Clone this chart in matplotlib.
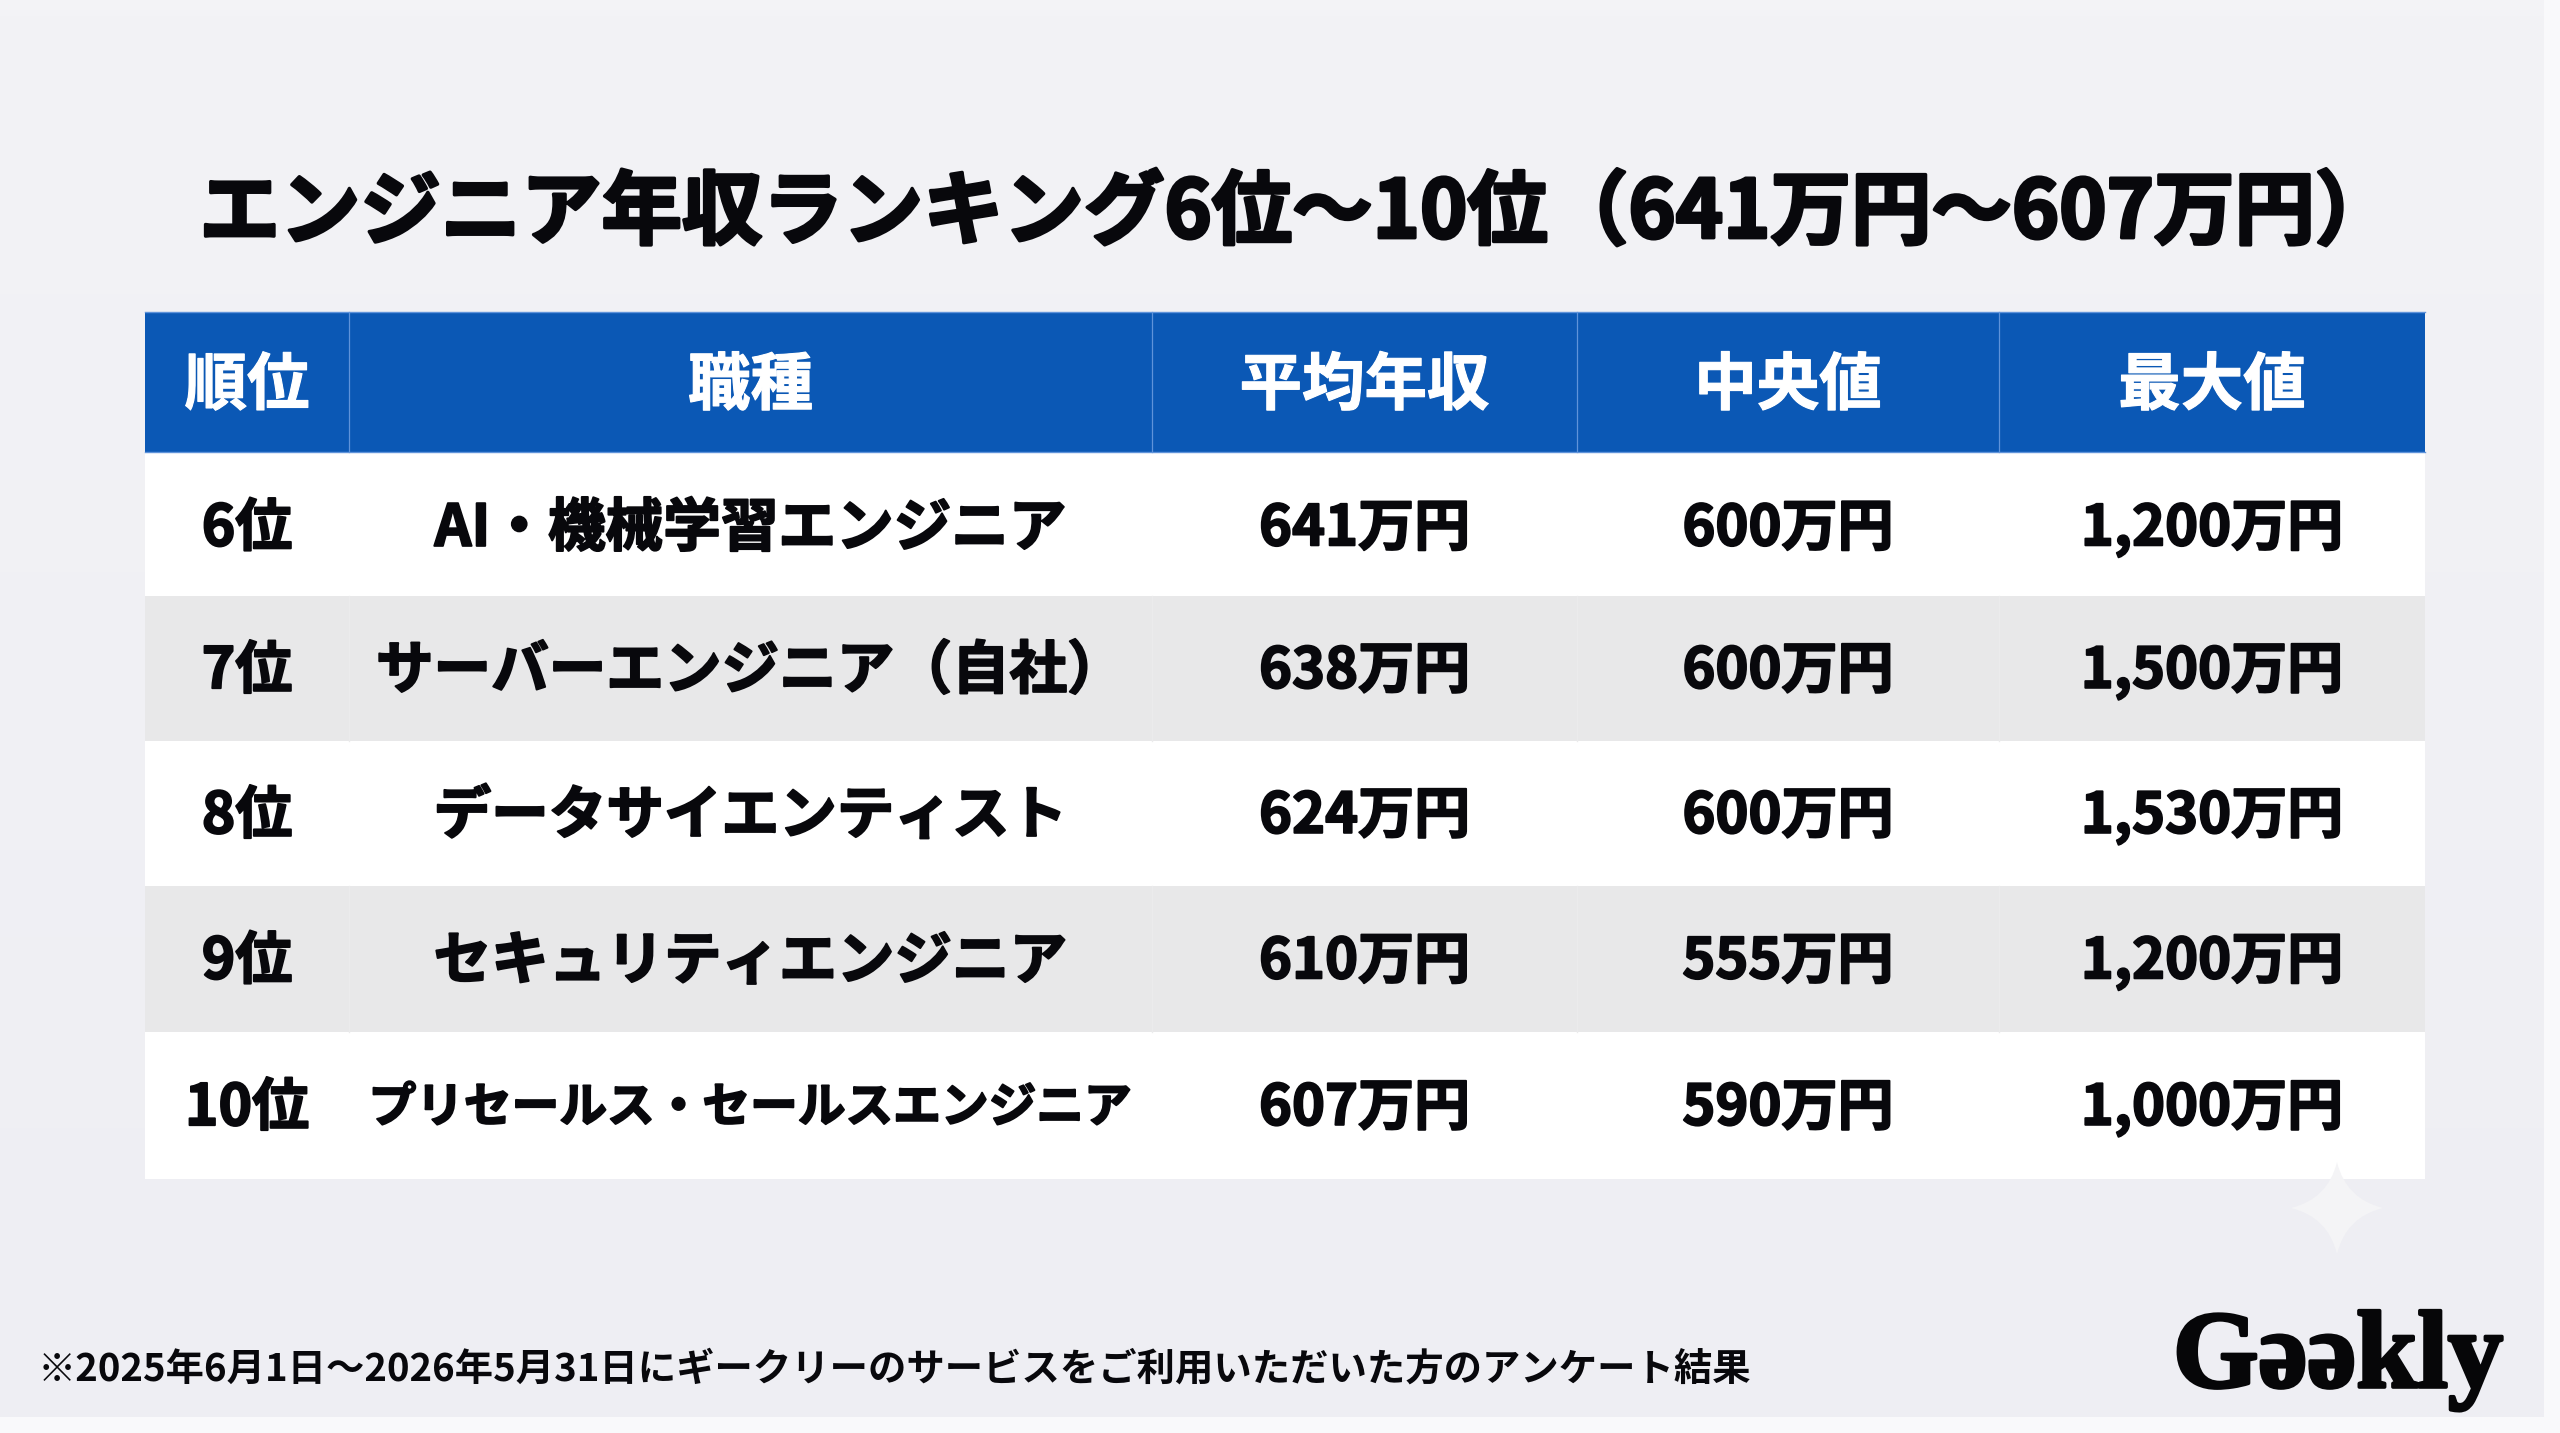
import matplotlib
matplotlib.use("Agg")
import matplotlib.pyplot as plt
import numpy as np
from matplotlib.colors import LinearSegmentedColormap
from matplotlib.patches import Rectangle, PathPatch
from matplotlib.path import Path
import matplotlib.patheffects as pe

plt.rcParams['font.family'] = ['Noto Sans CJK JP', 'DejaVu Sans']

# ---- data ----
title = "エンジニア年収ランキング6位～10位（641万円～607万円）"
headers = ["順位", "職種", "平均年収", "中央値", "最大値"]
ranks = [6, 7, 8, 9, 10]
jobs = ["AI・機械学習エンジニア", "サーバーエンジニア（自社）", "データサイエンティスト",
        "セキュリティエンジニア", "プリセールス・セールスエンジニア"]
avg_salary = [641, 638, 624, 610, 607]
median_salary = [600, 600, 600, 555, 590]
max_salary = [1200, 1500, 1530, 1200, 1000]
footnote = "※2025年6月1日～2026年5月31日にギークリーのサービスをご利用いただいた方のアンケート結果"
logo = "Gəəkly"

# ---- layout (pixels) ----
W, H = 2560, 1433
col_edges = [145, 349, 1152, 1577, 1999, 2425]
row_edges = [312, 452, 596, 741, 886, 1032, 1179]
PT = 72 / 100  # px -> pt at dpi 100

EDGE = "#f9f9fb"
BLUE = "#0b58b5"
LINE = "#5f93da"
GREY = "#e8e8e9"
INK = "#08080c"

fig = plt.figure(figsize=(W / 100, H / 100), dpi=100, facecolor=EDGE)
ax = fig.add_axes([0, 0, 1, 1])

# soft page background, lighter at the top, with a pale strip on the right and bottom
bg_cmap = LinearSegmentedColormap.from_list("bg", ["#f3f3f6", "#eeeef3"])
ax.imshow(np.linspace(0, 1, 64).reshape(-1, 1), cmap=bg_cmap, aspect="auto",
          extent=(0, 2544, 1417, 0), zorder=0, interpolation="bilinear")
ax.set_xlim(0, W)
ax.set_ylim(H, 0)
ax.axis("off")


def cell_text(x, yc, s, px, color=INK, stroke=1.4):
    base = yc + 0.345 * px
    t = ax.text(x, base, s, fontsize=px * PT, color=color, fontweight="bold",
                ha="center", va="baseline", zorder=5)
    if stroke:
        t.set_path_effects([pe.withStroke(linewidth=stroke, foreground=color)])
    return t


# table backgrounds
x0, x1 = col_edges[0], col_edges[-1]
ax.add_patch(Rectangle((x0, row_edges[0]), x1 - x0, row_edges[1] - row_edges[0], fc=BLUE, ec="none", zorder=1))
ax.plot([x0, x1], [row_edges[0], row_edges[0]], color=LINE, lw=1.0, zorder=2)
ax.plot([x0, x1], [row_edges[1], row_edges[1]], color=LINE, lw=1.0, zorder=2)
for i in range(5):
    top, bot = row_edges[i + 1], row_edges[i + 2]
    ax.add_patch(Rectangle((x0, top), x1 - x0, bot - top, fc="#ffffff" if i % 2 == 0 else GREY, ec="none", zorder=1))
    if i % 2 == 1:
        for c in col_edges[1:-1]:
            ax.plot([c, c], [top, bot], color="#ebebec", lw=1.0, zorder=2)
for c in col_edges[1:-1]:
    ax.plot([c, c], [row_edges[0], row_edges[1]], color=LINE, lw=0.9, zorder=2)

# sparkle decoration
sx, sy, sr, k = 2337, 1208, 46, 9
verts = [(sx, sy - sr), (sx + k, sy - k), (sx + sr, sy), (sx + k, sy + k), (sx, sy + sr),
         (sx - k, sy + k), (sx - sr, sy), (sx - k, sy - k), (sx, sy - sr)]
codes = [Path.MOVETO] + [Path.CURVE3] * 8
ax.add_patch(PathPatch(Path(verts, codes), fc="#f4f4f6", ec="none", zorder=3))

# text
cell_text(1297, 210, title, 80.4, stroke=2.4)

centers = [(col_edges[i] + col_edges[i + 1]) / 2 for i in range(5)]
for c, h in zip(centers, headers):
    cell_text(c, (row_edges[0] + row_edges[1]) / 2 + 1, h, 62.5, color="#ffffff", stroke=0.8)

for i in range(5):
    yc = (row_edges[i + 1] + row_edges[i + 2]) / 2 + (2 if i == 0 else 0)
    cell_text(centers[0], yc, f"{ranks[i]}位", 57)
    cell_text(centers[1], yc, jobs[i], 47.7 if len(jobs[i]) > 14 else 57.6)
    cell_text(centers[2], yc, f"{avg_salary[i]:,}万円", 56)
    cell_text(centers[3], yc, f"{median_salary[i]:,}万円", 56)
    cell_text(centers[4], yc, f"{max_salary[i]:,}万円", 56)

t = ax.text(38, 1367 + 0.345 * 38.35, footnote, fontsize=38.35 * PT, color=INK, fontweight="bold",
            ha="left", va="baseline", zorder=5)

t = ax.text(2173, 1387, logo, fontsize=110 * PT, color="#060608", fontweight="bold",
            family=["Liberation Serif", "DejaVu Serif"], ha="left", va="baseline", zorder=5)
t.set_path_effects([pe.withStroke(linewidth=2.6, foreground="#060608")])

fig.savefig("out.png", dpi=100, facecolor=fig.get_facecolor())
